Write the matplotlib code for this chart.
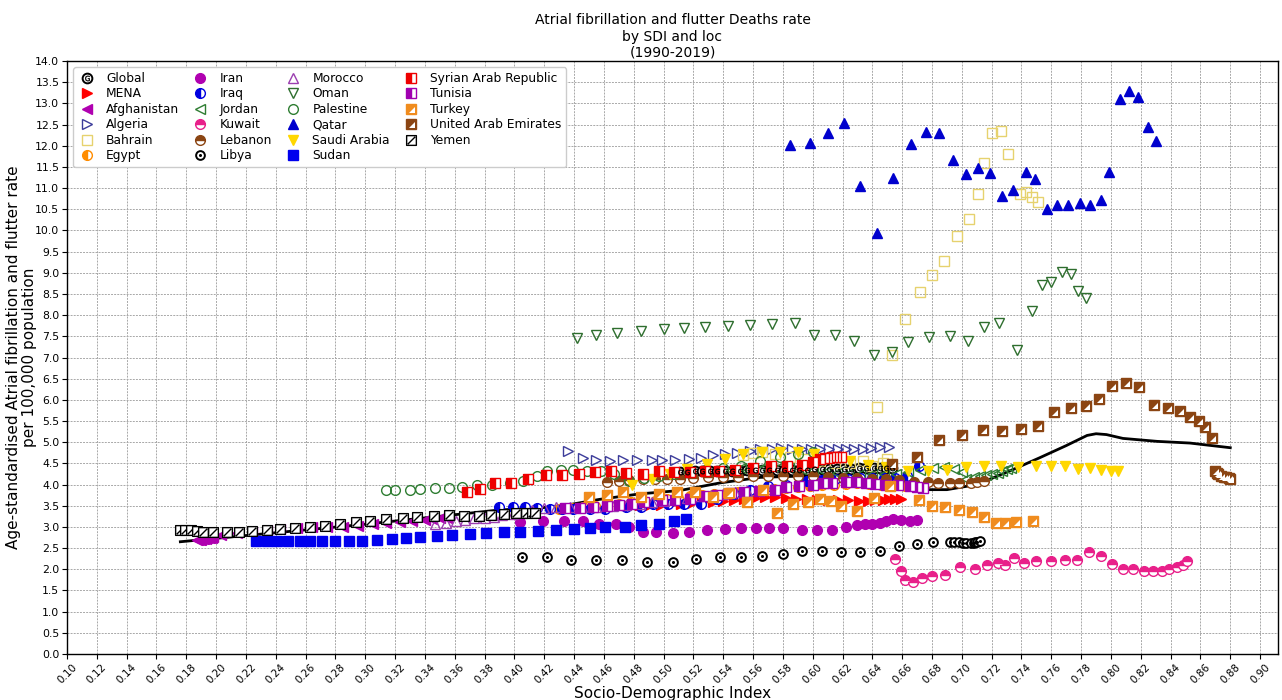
import numpy as np
import matplotlib
matplotlib.use("Agg")
import matplotlib.pyplot as plt
from matplotlib.path import Path
from matplotlib.markers import MarkerStyle
from matplotlib.transforms import Affine2D
from matplotlib.legend_handler import HandlerTuple

# ---------------- data: SDI (x) and age-standardised death rate (y), 1990-2019 ----------------
expected_sdi = [0.176, 0.296, 0.390, 0.417, 0.431, 0.457, 0.484, 0.511, 0.538, 0.565, 0.592, 0.614,
                0.632, 0.650, 0.672, 0.690, 0.705, 0.719, 0.734, 0.752, 0.770, 0.784, 0.790, 0.797,
                0.808, 0.831, 0.853, 0.880]
expected_rate = [2.65, 3.05, 3.40, 3.45, 3.49, 3.65, 3.78, 3.86, 4.04, 4.17, 4.20, 4.17,
                 4.05, 3.97, 3.88, 3.88, 3.97, 4.13, 4.35, 4.63, 4.92, 5.16, 5.20, 5.18,
                 5.09, 5.02, 4.98, 4.87]

global_sdi = [0.511, 0.516, 0.521, 0.526, 0.531, 0.536, 0.541, 0.546, 0.551, 0.556, 0.561, 0.566, 0.571,
              0.576, 0.581, 0.586, 0.591, 0.596, 0.601, 0.606, 0.611, 0.616, 0.621, 0.626, 0.631, 0.636,
              0.641, 0.645, 0.649, 0.653]
global_rate = [4.30, 4.30, 4.31, 4.31, 4.32, 4.32, 4.33, 4.33, 4.33, 4.34, 4.34, 4.34, 4.34, 4.35, 4.35,
               4.35, 4.35, 4.35, 4.36, 4.36, 4.36, 4.36, 4.37, 4.37, 4.38, 4.38, 4.39, 4.40, 4.40, 4.40]

mena_sdi = [0.470, 0.477, 0.484, 0.491, 0.498, 0.505, 0.512, 0.519, 0.526, 0.533, 0.540, 0.547, 0.554,
            0.561, 0.568, 0.575, 0.582, 0.589, 0.596, 0.603, 0.610, 0.617, 0.624, 0.631, 0.637, 0.642,
            0.647, 0.651, 0.655, 0.659]
mena_rate = [3.50, 3.50, 3.51, 3.52, 3.52, 3.53, 3.54, 3.56, 3.58, 3.60, 3.62, 3.64, 3.66, 3.68, 3.70,
             3.70, 3.69, 3.67, 3.65, 3.64, 3.64, 3.64, 3.63, 3.62, 3.62, 3.63, 3.64, 3.65, 3.66, 3.67]

afghanistan_sdi = [0.187, 0.188, 0.189, 0.190, 0.191, 0.192, 0.193, 0.194, 0.195, 0.196, 0.197, 0.198,
                   0.203, 0.214, 0.224, 0.234, 0.243, 0.254, 0.264, 0.274, 0.285, 0.295, 0.305, 0.314,
                   0.323, 0.331, 0.340, 0.345, 0.350, 0.355]
afghanistan_rate = [2.68, 2.69, 2.70, 2.70, 2.71, 2.72, 2.72, 2.73, 2.73, 2.74, 2.75, 2.76,
                    2.80, 2.85, 2.89, 2.93, 2.96, 2.98, 3.00, 3.00, 3.01, 3.03, 3.06, 3.09,
                    3.12, 3.15, 3.17, 3.19, 3.21, 3.22]

algeria_sdi = [0.436, 0.446, 0.455, 0.464, 0.473, 0.482, 0.492, 0.499, 0.508, 0.517, 0.525, 0.533, 0.541,
               0.549, 0.558, 0.565, 0.573, 0.579, 0.586, 0.593, 0.599, 0.605, 0.611, 0.617, 0.622, 0.628,
               0.634, 0.639, 0.645, 0.651]
algeria_rate = [4.79, 4.63, 4.57, 4.55, 4.57, 4.57, 4.57, 4.57, 4.59, 4.61, 4.63, 4.70, 4.72, 4.75, 4.79,
                4.84, 4.84, 4.87, 4.84, 4.85, 4.84, 4.84, 4.84, 4.84, 4.84, 4.84, 4.84, 4.87, 4.88, 4.88]

bahrain_sdi = [0.553, 0.560, 0.566, 0.575, 0.585, 0.595, 0.605, 0.615, 0.625, 0.634, 0.640, 0.643, 0.647,
               0.653, 0.662, 0.672, 0.680, 0.688, 0.697, 0.705, 0.711, 0.715, 0.720, 0.726, 0.731, 0.739,
               0.743, 0.747, 0.751, 0.650]
bahrain_rate = [4.69, 4.75, 4.78, 4.72, 4.65, 4.60, 4.55, 4.52, 4.50, 4.55, 4.45, 5.83, 4.50,
                7.06, 7.91, 8.54, 8.95, 9.27, 9.88, 10.28, 10.86, 11.59, 12.30, 12.34, 11.81, 10.86,
                10.90, 10.79, 10.67, 4.60]

egypt_sdi = [0.430, 0.438, 0.446, 0.454, 0.462, 0.470, 0.478, 0.486, 0.494, 0.502, 0.510, 0.518, 0.526,
             0.534, 0.542, 0.550, 0.558, 0.566, 0.574, 0.582, 0.590, 0.598, 0.606, 0.614, 0.622, 0.630,
             0.638, 0.646, 0.654, 0.662]
egypt_rate = [3.42, 3.45, 3.48, 3.50, 3.52, 3.55, 3.58, 3.60, 3.62, 3.65, 3.68, 3.72, 3.75, 3.78, 3.80,
              3.83, 3.85, 3.88, 3.90, 3.92, 3.95, 3.97, 3.98, 4.00, 4.02, 4.03, 4.02, 4.00, 3.98, 3.97]

iran_sdi = [0.404, 0.419, 0.433, 0.446, 0.457, 0.468, 0.477, 0.486, 0.495, 0.506, 0.517, 0.529, 0.541,
            0.552, 0.562, 0.571, 0.580, 0.593, 0.603, 0.613, 0.622, 0.630, 0.635, 0.640, 0.645, 0.649,
            0.654, 0.659, 0.665, 0.670]
iran_rate = [3.11, 3.13, 3.13, 3.13, 3.08, 3.06, 3.00, 2.88, 2.87, 2.86, 2.87, 2.93, 2.96, 2.97, 2.97,
             2.97, 2.97, 2.93, 2.93, 2.93, 3.00, 3.04, 3.06, 3.07, 3.10, 3.15, 3.18, 3.16, 3.15, 3.16]

iraq_sdi = [0.390, 0.399, 0.407, 0.415, 0.424, 0.432, 0.439, 0.451, 0.461, 0.475, 0.485, 0.493, 0.503,
            0.514, 0.525, 0.536, 0.547, 0.558, 0.570, 0.582, 0.596, 0.606, 0.615, 0.624, 0.632, 0.640,
            0.648, 0.655, 0.663, 0.671]
iraq_rate = [3.47, 3.47, 3.47, 3.44, 3.42, 3.42, 3.42, 3.42, 3.42, 3.47, 3.47, 3.53, 3.53, 3.53, 3.54,
             3.65, 3.78, 3.88, 3.96, 4.00, 4.08, 4.10, 4.12, 4.13, 4.15, 4.15, 4.15, 4.15, 4.20, 4.43]

jordan_sdi = [0.545, 0.552, 0.560, 0.568, 0.576, 0.584, 0.592, 0.600, 0.608, 0.616, 0.624, 0.632, 0.640,
              0.648, 0.656, 0.664, 0.672, 0.681, 0.688, 0.695, 0.700, 0.703, 0.708, 0.712, 0.716, 0.720,
              0.724, 0.727, 0.730, 0.733]
jordan_rate = [4.35, 4.38, 4.40, 4.42, 4.40, 4.38, 4.36, 4.34, 4.30, 4.28, 4.26, 4.25, 4.24, 4.24, 4.25,
               4.30, 4.35, 4.39, 4.42, 4.36, 4.30, 4.13, 4.18, 4.21, 4.22, 4.25, 4.28, 4.32, 4.36, 4.39]

kuwait_sdi = [0.655, 0.659, 0.662, 0.667, 0.673, 0.680, 0.689, 0.699, 0.709, 0.717, 0.724, 0.729, 0.735,
              0.742, 0.750, 0.760, 0.769, 0.777, 0.785, 0.793, 0.801, 0.808, 0.815, 0.822, 0.828, 0.834,
              0.839, 0.844, 0.848, 0.851]
kuwait_rate = [2.24, 1.95, 1.74, 1.71, 1.79, 1.85, 1.87, 2.06, 2.01, 2.09, 2.16, 2.10, 2.27, 2.15, 2.20,
               2.20, 2.22, 2.22, 2.40, 2.32, 2.12, 2.01, 2.01, 1.97, 1.97, 1.97, 2.01, 2.05, 2.09, 2.20]

lebanon_sdi = [0.462, 0.470, 0.477, 0.486, 0.494, 0.502, 0.511, 0.520, 0.530, 0.540, 0.550, 0.560, 0.570,
               0.580, 0.590, 0.600, 0.610, 0.620, 0.630, 0.640, 0.649, 0.658, 0.668, 0.677, 0.684, 0.692,
               0.698, 0.706, 0.710, 0.715]
lebanon_rate = [4.05, 4.09, 4.10, 4.12, 4.12, 4.13, 4.14, 4.15, 4.17, 4.18, 4.19, 4.20, 4.21, 4.21, 4.21,
                4.20, 4.18, 4.16, 4.15, 4.14, 4.13, 4.10, 4.07, 4.06, 4.04, 4.04, 4.04, 4.04, 4.07, 4.08]

libya_sdi = [0.405, 0.422, 0.438, 0.455, 0.472, 0.489, 0.506, 0.522, 0.538, 0.552, 0.566, 0.580, 0.593,
             0.606, 0.619, 0.632, 0.645, 0.658, 0.670, 0.681, 0.692, 0.695, 0.698, 0.701, 0.703, 0.706,
             0.708, 0.709, 0.710, 0.712]
libya_rate = [2.29, 2.28, 2.22, 2.21, 2.21, 2.18, 2.18, 2.24, 2.29, 2.29, 2.32, 2.37, 2.44, 2.44, 2.40,
              2.40, 2.43, 2.55, 2.59, 2.65, 2.65, 2.65, 2.64, 2.63, 2.63, 2.63, 2.63, 2.64, 2.65, 2.66]

morocco_sdi = [0.347, 0.354, 0.361, 0.367, 0.373, 0.380, 0.386, 0.392, 0.399, 0.405, 0.412, 0.420, 0.428,
               0.437, 0.445, 0.455, 0.466, 0.475, 0.484, 0.492, 0.500, 0.508, 0.516, 0.524, 0.532, 0.540,
               0.548, 0.556, 0.564, 0.572]
morocco_rate = [3.06, 3.09, 3.14, 3.17, 3.20, 3.22, 3.24, 3.27, 3.30, 3.34, 3.40, 3.45, 3.47, 3.47, 3.46,
                3.47, 3.50, 3.52, 3.55, 3.58, 3.62, 3.65, 3.68, 3.72, 3.75, 3.78, 3.82, 3.85, 3.88, 3.90]

oman_sdi = [0.442, 0.455, 0.469, 0.485, 0.500, 0.514, 0.528, 0.543, 0.558, 0.573, 0.588, 0.601, 0.615,
            0.628, 0.641, 0.653, 0.664, 0.678, 0.692, 0.704, 0.715, 0.725, 0.737, 0.747, 0.754, 0.760,
            0.767, 0.773, 0.778, 0.783]
oman_rate = [7.46, 7.52, 7.58, 7.62, 7.67, 7.70, 7.72, 7.74, 7.76, 7.78, 7.81, 7.54, 7.52, 7.39, 7.05,
             7.13, 7.36, 7.48, 7.51, 7.39, 7.71, 7.82, 7.18, 8.10, 8.71, 8.79, 9.02, 8.97, 8.57, 8.40]

palestine_sdi = [0.314, 0.320, 0.330, 0.337, 0.347, 0.356, 0.365, 0.375, 0.385, 0.397, 0.406, 0.415, 0.422,
                 0.431, 0.439, 0.449, 0.458, 0.467, 0.477, 0.487, 0.497, 0.507, 0.517, 0.528, 0.540, 0.552,
                 0.565, 0.578, 0.590, 0.600]
palestine_rate = [3.88, 3.88, 3.88, 3.89, 3.92, 3.93, 3.95, 3.99, 4.00, 4.03, 4.09, 4.20, 4.33, 4.34, 4.34,
                  4.31, 4.31, 4.25, 4.09, 4.15, 4.20, 4.25, 4.30, 4.35, 4.40, 4.45, 4.55, 4.65, 4.72, 4.76]

qatar_sdi = [0.585, 0.598, 0.610, 0.621, 0.632, 0.643, 0.654, 0.666, 0.676, 0.685, 0.694, 0.703, 0.711,
             0.719, 0.727, 0.734, 0.743, 0.749, 0.757, 0.764, 0.771, 0.779, 0.786, 0.793, 0.799, 0.806,
             0.812, 0.818, 0.825, 0.830]
qatar_rate = [12.01, 12.07, 12.29, 12.54, 11.06, 9.94, 11.23, 12.05, 12.32, 12.30, 11.66, 11.33, 11.48,
              11.36, 10.81, 10.96, 11.38, 11.21, 10.51, 10.61, 10.61, 10.65, 10.59, 10.71, 11.37, 13.11,
              13.29, 13.15, 12.45, 12.11]

saudi_sdi = [0.479, 0.492, 0.504, 0.516, 0.529, 0.541, 0.553, 0.566, 0.578, 0.590, 0.601, 0.613, 0.625,
             0.637, 0.649, 0.664, 0.677, 0.690, 0.703, 0.715, 0.726, 0.738, 0.750, 0.760, 0.769, 0.778,
             0.786, 0.793, 0.800, 0.805]
saudi_rate = [4.00, 4.12, 4.26, 4.37, 4.49, 4.61, 4.71, 4.77, 4.77, 4.77, 4.71, 4.63, 4.55, 4.47, 4.42,
              4.31, 4.31, 4.35, 4.41, 4.43, 4.45, 4.41, 4.43, 4.43, 4.45, 4.37, 4.38, 4.35, 4.31, 4.31]

sudan_sdi = [0.227, 0.234, 0.241, 0.248, 0.256, 0.263, 0.271, 0.280, 0.289, 0.298, 0.308, 0.318, 0.327,
             0.337, 0.348, 0.358, 0.370, 0.381, 0.393, 0.404, 0.416, 0.428, 0.440, 0.451, 0.461, 0.474,
             0.485, 0.497, 0.507, 0.515]
sudan_rate = [2.67, 2.67, 2.67, 2.67, 2.67, 2.67, 2.67, 2.67, 2.67, 2.67, 2.69, 2.71, 2.74, 2.77, 2.79,
              2.82, 2.83, 2.86, 2.87, 2.89, 2.91, 2.93, 2.95, 2.97, 3.00, 3.01, 3.04, 3.08, 3.15, 3.19]

syria_sdi = [0.368, 0.377, 0.387, 0.398, 0.409, 0.421, 0.432, 0.443, 0.454, 0.465, 0.475, 0.486, 0.497,
             0.507, 0.518, 0.528, 0.537, 0.548, 0.560, 0.572, 0.583, 0.593, 0.600, 0.605, 0.608, 0.611,
             0.613, 0.615, 0.617, 0.619]
syria_rate = [3.83, 3.89, 4.03, 4.03, 4.13, 4.22, 4.23, 4.25, 4.30, 4.31, 4.28, 4.26, 4.31, 4.30, 4.30,
              4.31, 4.31, 4.35, 4.40, 4.43, 4.45, 4.47, 4.53, 4.61, 4.62, 4.63, 4.64, 4.65, 4.65, 4.64]

tunisia_sdi = [0.434, 0.444, 0.453, 0.462, 0.470, 0.479, 0.487, 0.499, 0.508, 0.518, 0.527, 0.536, 0.545,
               0.554, 0.564, 0.575, 0.582, 0.591, 0.600, 0.607, 0.613, 0.622, 0.629, 0.636, 0.642, 0.649,
               0.657, 0.665, 0.670, 0.674]
tunisia_rate = [3.45, 3.45, 3.47, 3.50, 3.52, 3.55, 3.60, 3.63, 3.64, 3.67, 3.72, 3.76, 3.80, 3.83, 3.86,
                3.88, 3.94, 3.96, 3.98, 4.04, 4.04, 4.05, 4.05, 4.04, 4.02, 4.00, 3.98, 3.96, 3.94, 3.93]

turkey_sdi = [0.450, 0.462, 0.473, 0.485, 0.497, 0.509, 0.521, 0.533, 0.544, 0.556, 0.567, 0.576, 0.587,
              0.597, 0.605, 0.612, 0.619, 0.630, 0.641, 0.652, 0.671, 0.680, 0.689, 0.698, 0.707, 0.715,
              0.723, 0.729, 0.736, 0.748]
turkey_rate = [3.70, 3.75, 3.82, 3.70, 3.78, 3.82, 3.82, 3.70, 3.79, 3.60, 3.88, 3.33, 3.53, 3.60, 3.67,
               3.62, 3.50, 3.37, 3.68, 3.96, 3.64, 3.50, 3.46, 3.39, 3.35, 3.23, 3.09, 3.09, 3.11, 3.15]

uae_sdi = [0.653, 0.670, 0.685, 0.700, 0.714, 0.727, 0.740, 0.751, 0.762, 0.773, 0.783, 0.792, 0.801,
           0.810, 0.819, 0.829, 0.838, 0.846, 0.853, 0.859, 0.863, 0.868, 0.870, 0.871, 0.872, 0.874,
           0.876, 0.877, 0.879, 0.880]
uae_rate = [4.49, 4.65, 5.05, 5.18, 5.30, 5.26, 5.31, 5.39, 5.72, 5.81, 5.85, 6.03, 6.33, 6.39, 6.31,
            5.88, 5.80, 5.73, 5.60, 5.50, 5.36, 5.10, 4.31, 4.28, 4.26, 4.21, 4.18, 4.17, 4.15, 4.13]

yemen_sdi = [0.176, 0.179, 0.183, 0.187, 0.191, 0.198, 0.207, 0.215, 0.224, 0.234, 0.243, 0.253, 0.263,
             0.273, 0.283, 0.294, 0.303, 0.314, 0.325, 0.335, 0.346, 0.356, 0.366, 0.376, 0.384, 0.393,
             0.401, 0.408, 0.412, 0.414]
yemen_rate = [2.92, 2.92, 2.92, 2.91, 2.89, 2.89, 2.87, 2.89, 2.91, 2.93, 2.94, 2.97, 3.00, 3.02, 3.07,
              3.11, 3.14, 3.18, 3.21, 3.23, 3.25, 3.27, 3.26, 3.26, 3.29, 3.30, 3.33, 3.33, 3.34, 3.34]

# ---------------- marker shapes ----------------
square_slash = Path([(-1, -1), (1, -1), (1, 1), (-1, 1), (-1, -1), (-0.75, -0.75), (0.75, 0.75)],
                    [Path.MOVETO, Path.LINETO, Path.LINETO, Path.LINETO, Path.CLOSEPOLY,
                     Path.MOVETO, Path.LINETO])
corner_tri = MarkerStyle(Path([(-1, -1), (1, -1), (1, 1), (-1, -1)],
                              [Path.MOVETO, Path.LINETO, Path.LINETO, Path.CLOSEPOLY]),
                         transform=Affine2D().scale(0.55).translate(0.12, -0.12))

MS = 7.0
# each entry: label, x, y, list of marker layers drawn on top of each other
series = [
    ("Global", global_sdi, global_rate,
     [dict(marker="o", mfc="white", mec="black", ms=MS, mew=1.4),
      dict(marker=r"$\mathsf{G}$", color="black", ms=MS * 0.55, mew=0.3)]),
    ("MENA", mena_sdi, mena_rate, [dict(marker=">", color="#ff0000", ms=MS)]),
    ("Afghanistan", afghanistan_sdi, afghanistan_rate, [dict(marker="<", color="#b000b0", ms=MS)]),
    ("Algeria", algeria_sdi, algeria_rate, [dict(marker=">", mfc="none", mec="#3c3c9a", ms=MS)]),
    ("Bahrain", bahrain_sdi, bahrain_rate, [dict(marker="s", mfc="none", mec="#e6d26e", ms=MS)]),
    ("Egypt", egypt_sdi, egypt_rate,
     [dict(marker="o", color="#ff8c00", fillstyle="left", mfcalt="white", ms=MS)]),
    ("Iran", iran_sdi, iran_rate, [dict(marker="o", color="#b000b0", ms=MS)]),
    ("Iraq", iraq_sdi, iraq_rate,
     [dict(marker="o", color="#0000e0", fillstyle="left", mfcalt="white", ms=MS)]),
    ("Jordan", jordan_sdi, jordan_rate, [dict(marker="<", mfc="none", mec="#2e7d32", ms=MS)]),
    ("Kuwait", kuwait_sdi, kuwait_rate,
     [dict(marker="o", color="#e8208a", fillstyle="top", mfcalt="white", ms=MS)]),
    ("Lebanon", lebanon_sdi, lebanon_rate,
     [dict(marker="o", color="#8b4513", fillstyle="top", mfcalt="white", ms=MS)]),
    ("Libya", libya_sdi, libya_rate,
     [dict(marker="o", mfc="white", mec="black", ms=MS * 0.9, mew=1.4),
      dict(marker="o", color="black", ms=2.2, mew=0)]),
    ("Morocco", morocco_sdi, morocco_rate, [dict(marker="^", mfc="none", mec="#9b3fb0", ms=MS)]),
    ("Oman", oman_sdi, oman_rate, [dict(marker="v", mfc="none", mec="#2e6e2e", ms=MS)]),
    ("Palestine", palestine_sdi, palestine_rate, [dict(marker="o", mfc="none", mec="#2e7d32", ms=MS)]),
    ("Qatar", qatar_sdi, qatar_rate, [dict(marker="^", color="#0000cd", ms=MS)]),
    ("Saudi Arabia", saudi_sdi, saudi_rate, [dict(marker="v", color="#ffd700", ms=MS)]),
    ("Sudan", sudan_sdi, sudan_rate, [dict(marker="s", color="#0000ee", ms=MS)]),
    ("Syrian Arab Republic", syria_sdi, syria_rate,
     [dict(marker="s", color="#ee0000", fillstyle="left", mfcalt="white", ms=MS)]),
    ("Tunisia", tunisia_sdi, tunisia_rate,
     [dict(marker="s", color="#a000b0", fillstyle="left", mfcalt="white", ms=MS)]),
    ("Turkey", turkey_sdi, turkey_rate,
     [dict(marker="s", color="#f08c1e", ms=MS),
      dict(marker=corner_tri, mfc="white", mec="white", ms=MS, mew=0)]),
    ("United Arab Emirates", uae_sdi, uae_rate,
     [dict(marker="s", color="#8b4513", ms=MS),
      dict(marker=corner_tri, mfc="white", mec="white", ms=MS, mew=0)]),
    ("Yemen", yemen_sdi, yemen_rate, [dict(marker=square_slash, mfc="white", mec="black", ms=MS)]),
]

fig = plt.figure(figsize=(12.82, 7.0), dpi=100)
ax = fig.add_axes([67 / 1282, 46 / 700, (1278 - 67) / 1282, (654 - 61) / 700])

ax.plot(expected_sdi, expected_rate, color="black", lw=2.0, zorder=3)

handles, labels = [], []
for name, xs, ys, layers in series:
    parts = []
    for i, layer in enumerate(layers):
        st = dict(layer)
        kw = dict(linestyle="none", marker=st.pop("marker"), markersize=st.pop("ms"),
                  markeredgewidth=st.pop("mew", 1.0), zorder=4 + i)
        if "color" in st:
            kw["color"] = st.pop("color")
        if "mfc" in st:
            kw["markerfacecolor"] = st.pop("mfc")
        if "mec" in st:
            kw["markeredgecolor"] = st.pop("mec")
        if "fillstyle" in st:
            kw["fillstyle"] = st.pop("fillstyle")
        if "mfcalt" in st:
            kw["markerfacecoloralt"] = st.pop("mfcalt")
        parts.append(ax.plot(xs, ys, **kw)[0])
    handles.append(parts[0] if len(parts) == 1 else tuple(parts))
    labels.append(name)

ax.set_xlim(0.1, 0.912)
ax.set_ylim(0, 14)
xt = np.round(np.arange(0.10, 0.901, 0.02), 2)
ax.set_xticks(xt)
ax.set_xticklabels([f"{v:.2f}" for v in xt], rotation=45, fontsize=7.5)
yt = np.arange(0, 14.01, 0.5)
ax.set_yticks(yt)
ax.set_yticklabels([f"{v:.1f}" for v in yt], fontsize=7.8)
ax.tick_params(axis="both", length=3.5, pad=2)
ax.grid(True, linestyle=(0, (2, 1.2)), color="#a8a8a8", linewidth=0.7)
ax.set_axisbelow(True)
for s in ax.spines.values():
    s.set_linewidth(1.0)

ax.set_title("Atrial fibrillation and flutter Deaths rate\nby SDI and loc\n(1990-2019)", fontsize=10, pad=3)
ax.set_xlabel("Socio-Demographic Index", fontsize=11, labelpad=1)
ax.set_ylabel("Age-standardised Atrial fibrillation and flutter rate\nper 100,000 population",
              fontsize=11, linespacing=1.15)
ax.yaxis.set_label_coords(-0.0245, 0.5)

ax.legend(handles, labels, loc="upper left", ncol=4, fontsize=8.8, labelspacing=0.2,
          handlelength=1.4, handletextpad=0.9, columnspacing=1.0, borderpad=0.4, framealpha=1.0,
          handler_map={tuple: HandlerTuple(ndivide=1)})

fig.savefig("out.png", dpi=100)
